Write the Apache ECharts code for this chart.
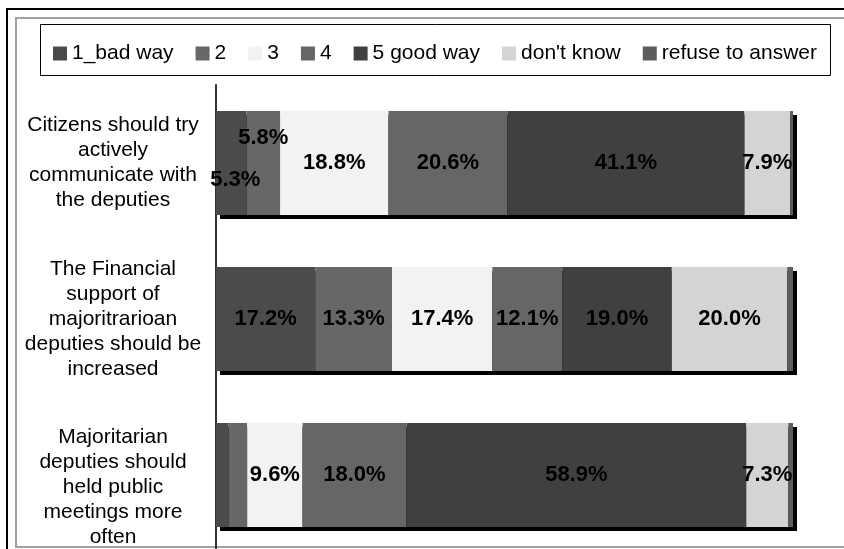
<!DOCTYPE html>
<html>
<head>
<meta charset="utf-8">
<script src="https://cdn.jsdelivr.net/npm/echarts@6/dist/echarts.min.js"></script>
<style>
  html, body { margin: 0; padding: 0; background: #fff; }
  #chart { width: 844px; height: 549px; }
</style>
</head>
<body>
<div id="chart"></div>
<script>
const categories = [
  'Citizens should try\nactively\ncommunicate with\nthe deputies',
  'The Financial\nsupport of\nmajoritrarioan\ndeputies should be\nincreased',
  'Majoritarian\ndeputies should\nheld public\nmeetings more\noften'
]
const seriesNames = ['1_bad way', '2', '3', '4', '5 good way', "don't know", 'refuse to answer']
const badWay = [5.3, 17.2, 2.2]
const two = [5.8, 13.3, 3.2]
const three = [18.8, 17.4, 9.6]
const four = [20.6, 12.1, 18.0]
const goodWay = [41.1, 19.0, 58.9]
const dontKnow = [7.9, 20.0, 7.3]
const refuse = [0.5, 1.0, 0.8]

const values = [badWay, two, three, four, goodWay, dontKnow, refuse]
const colors = ['#4b4b4b', '#676767', '#f2f2f2', '#666666', '#404040', '#d4d4d4', '#5c5c5c']

// the two narrow segments of the first bar have staggered labels
const labelOffsets = {
  '0-0': [4, 17],
  '1-0': [0, -25]
}

const font = 'Liberation Sans, Arial, sans-serif'
const barGapRatio = 0.333

const totals = categories.map((c, j) => values.reduce((s, v) => s + v[j], 0))

// black drop shadow behind each whole bar
const shadowSeries = {
  type: 'custom',
  silent: true,
  z: 1,
  encode: { x: 0, y: 1 },
  renderItem: (params, api) => {
    const end = api.coord([api.value(0), api.value(1)])
    const start = api.coord([0, api.value(1)])
    const h = api.size([0, 1])[1] * (1 - barGapRatio)
    return {
      type: 'rect',
      shape: { x: start[0] + 4, y: end[1] - h / 2 + 4, width: end[0] - start[0], height: h },
      style: { fill: '#000' }
    }
  },
  data: totals.map((t, j) => [t, j])
}

const series = values.map((vals, i) => ({
  name: seriesNames[i],
  type: 'bar',
  stack: 'total',
  z: 2,
  barCategoryGap: (barGapRatio * 100) + '%',
  itemStyle: { color: colors[i] },
  label: {
    show: true,
    position: 'inside',
    color: '#000',
    fontFamily: font,
    fontWeight: 'bold',
    fontSize: 22,
    formatter: p => (p.value >= 5 ? p.value.toFixed(1) + '%' : '')
  },
  emphasis: { disabled: true },
  data: vals.map((v, j) => {
    const off = labelOffsets[i + '-' + j]
    return off ? { value: v, label: { offset: off } } : v
  })
}))

const chart = echarts.init(document.getElementById('chart'), null, { renderer: 'canvas' })

const option = {
  animation: false,
  legend: {
    left: 53,
    top: 43,
    padding: 0,
    itemWidth: 14,
    itemHeight: 14,
    itemGap: 22,
    icon: 'rect',
    textStyle: { color: '#000', fontFamily: font, fontSize: 21 },
    data: seriesNames
  },
  grid: {
    left: 216,
    right: 51,
    top: 85,
    height: 468,
    outerBoundsMode: 'none'
  },
  xAxis: {
    type: 'value',
    min: 0,
    max: 100,
    show: false
  },
  yAxis: {
    type: 'category',
    inverse: true,
    data: categories,
    axisLine: { lineStyle: { color: '#333', width: 2 } },
    axisTick: { length: 8, lineStyle: { color: '#333', width: 2 } },
    axisLabel: {
      margin: 103,
      color: '#000',
      fontFamily: font,
      fontSize: 21,
      lineHeight: 25,
      align: 'center',
      // last label sits a little lower in the original (it is cut at the bottom)
      formatter: (v, i) => (i === 2 ? '\n' + v : v)
    }
  },
  graphic: [
    { type: 'rect', shape: { x: 7, y: 9, width: 900, height: 600 }, style: { fill: 'none', stroke: '#000', lineWidth: 2 }, silent: true },
    { type: 'rect', shape: { x: 16, y: 18, width: 900, height: 529 }, style: { fill: 'none', stroke: '#a0a0a0', lineWidth: 2 }, silent: true },
    { type: 'rect', shape: { x: 40.5, y: 24.5, width: 790, height: 51 }, style: { fill: 'none', stroke: '#000', lineWidth: 1 }, silent: true }
  ],
  series: [shadowSeries].concat(series)
}

chart.setOption(option)
window.addEventListener('resize', chart.resize)
</script>
</body>
</html>
